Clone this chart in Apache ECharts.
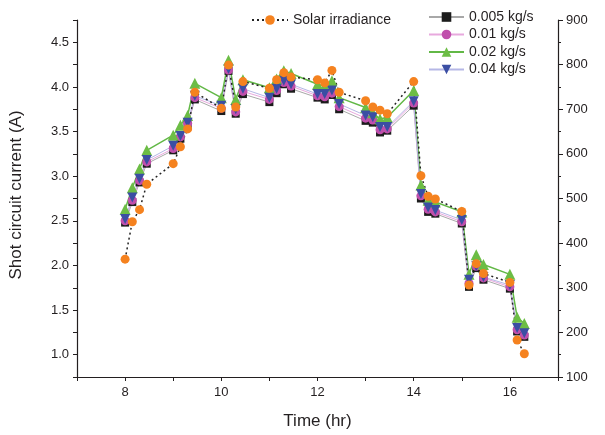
<!DOCTYPE html>
<html>
<head>
<meta charset="utf-8">
<script src="https://cdn.jsdelivr.net/npm/echarts@6/dist/echarts.min.js"></script>
<style>
  html, body { margin: 0; padding: 0; background: #fff; }
  #chart { width: 605px; height: 435px; }
</style>
</head>
<body>
<div id="chart"></div>
<script>
// time of day (hr, minutes written as decimals like the source)
const times = [8, 8.15, 8.3, 8.45, 9, 9.15, 9.3, 9.45, 10, 10.15, 10.3, 10.45,
  11, 11.15, 11.3, 11.45, 12, 12.15, 12.3, 12.45, 13, 13.15, 13.3, 13.45,
  14, 14.15, 14.3, 14.45, 15, 15.15, 15.3, 15.45, 16, 16.15, 16.3]

// short circuit current (A) per mass flow rate
const flow005 = [2.48, 2.71, 2.93, 3.14, 3.29, 3.42, 3.57, 3.86, 3.73, 4.18, 3.70, 3.92,
  3.83, 3.93, 4.03, 3.98, 3.88, 3.86, 3.91, 3.75, 3.62, 3.60, 3.49, 3.51,
  3.79, 2.75, 2.60, 2.58, 2.47, 1.76, 1.97, 1.84, 1.74, 1.26, 1.20]
const flow01 = [2.50, 2.73, 2.95, 3.16, 3.31, 3.44, 3.59, 3.88, 3.76, 4.19, 3.72, 3.95,
  3.86, 3.96, 4.05, 4.01, 3.90, 3.89, 3.93, 3.78, 3.65, 3.63, 3.52, 3.53,
  3.82, 2.78, 2.63, 2.60, 2.49, 1.80, 1.99, 1.86, 1.76, 1.28, 1.22]
const flow02 = [2.63, 2.87, 3.08, 3.29, 3.46, 3.57, 3.68, 4.04, 3.88, 4.30, 3.86, 4.08,
  3.99, 4.09, 4.18, 4.15, 4.03, 4.01, 4.07, 3.88, 3.77, 3.71, 3.64, 3.66,
  3.96, 2.90, 2.73, 2.71, 2.60, 1.90, 2.12, 2.01, 1.90, 1.42, 1.35]
const flow04 = [2.52, 2.76, 2.97, 3.18, 3.34, 3.45, 3.60, 3.90, 3.79, 4.20, 3.75, 3.98,
  3.88, 3.98, 4.07, 4.03, 3.92, 3.92, 3.96, 3.81, 3.68, 3.66, 3.55, 3.55,
  3.84, 2.80, 2.65, 2.62, 2.51, 1.84, 1.99, 1.87, 1.78, 1.30, 1.24]

// solar irradiance (W/m2), right axis
const solar = [364, 448, 475, 532, 578, 616, 656, 738, 702, 799, 705, 762,
  747, 766, 782, 772, 766, 759, 787, 738, 719, 705, 698, 690,
  762, 551, 505, 499, 471, 306, 354, 332, 312, 183, 152]

const flowNames = ['0.005 kg/s', '0.01 kg/s', '0.02 kg/s', '0.04 kg/s']

const FONT = '"Liberation Sans", Arial, sans-serif'
const INK = '#231f20'

const pairs = (ys) => times.map((t, i) => [t, ys[i]])

const el = document.getElementById('chart')
const chart = echarts.init(el)

chart.setOption({
  animation: false,
  backgroundColor: '#fff',
  textStyle: { fontFamily: FONT, color: INK },
  grid: { left: 77, right: 47, top: 20, bottom: 56 },
  legend: [
    {
      data: ['Solar irradiance'],
      left: 251, top: 13, padding: 0,
      itemWidth: 36, itemHeight: 12,
      textStyle: { fontSize: 14, color: INK, fontFamily: FONT }
    },
    {
      data: flowNames,
      orient: 'vertical',
      left: 428, top: 10, padding: 0,
      itemWidth: 35, itemHeight: 12, itemGap: 3.5,
      textStyle: { fontSize: 14, color: INK, fontFamily: FONT }
    }
  ],
  xAxis: {
    type: 'value',
    min: 7, max: 17, interval: 1,
    name: 'Time (hr)',
    nameLocation: 'middle',
    nameGap: 36,
    nameTextStyle: { fontSize: 17, color: INK },
    axisLine: { onZero: false, lineStyle: { color: INK, width: 1.2 } },
    axisTick: { length: 4, lineStyle: { color: INK } },
    axisLabel: {
      fontSize: 13, color: INK, margin: 9,
      formatter: (v) => (v % 2 === 0 ? String(v) : '')
    },
    splitLine: { show: false }
  },
  yAxis: [
    {
      type: 'value',
      min: 0.75, max: 4.75, interval: 0.25,
      axisLine: { show: true, lineStyle: { color: INK, width: 1.2 } },
      axisTick: { length: 4, lineStyle: { color: INK } },
      axisLabel: {
        fontSize: 13, color: INK, margin: 8,
        formatter: (v) => {
          const k = Math.round(v * 100)
          return k >= 100 && k % 50 === 0 ? (k / 100).toFixed(1) : ''
        }
      },
      splitLine: { show: false }
    },
    {
      type: 'value',
      position: 'right',
      min: 100, max: 900, interval: 100,
      axisLine: { show: true, lineStyle: { color: INK, width: 1.2 } },
      axisTick: { length: 5, lineStyle: { color: INK } },
      minorTick: { show: true, splitNumber: 2, length: 3, lineStyle: { color: INK } },
      axisLabel: { fontSize: 13, color: INK, margin: 8 },
      splitLine: { show: false }
    }
  ],
  graphic: [
    {
      type: 'text',
      x: 16, y: 195,
      rotation: Math.PI / 2,
      style: {
        text: 'Shot circuit current (A)',
        x: 0, y: 0,
        align: 'center', verticalAlign: 'middle',
        font: '17px ' + FONT,
        fill: INK
      }
    }
  ],
  series: [
    {
      name: flowNames[0], type: 'line', data: pairs(flow005),
      symbol: 'rect', symbolSize: 8,
      itemStyle: { color: '#1c1c1c' },
      lineStyle: { color: '#a8a8a8', width: 1 }
    },
    {
      name: flowNames[1], type: 'line', data: pairs(flow01),
      symbol: 'circle', symbolSize: 9,
      itemStyle: { color: '#c04fac' },
      lineStyle: { color: '#e8a9de', width: 1 }
    },
    {
      name: flowNames[2], type: 'line', data: pairs(flow02),
      symbol: 'triangle', symbolSize: 11,
      itemStyle: { color: '#6cbd45' },
      lineStyle: { color: '#62b846', width: 1.5 }
    },
    {
      name: flowNames[3], type: 'line', data: pairs(flow04),
      symbol: 'triangle', symbolRotate: 180, symbolSize: 10,
      itemStyle: { color: '#3b4ea3' },
      lineStyle: { color: '#b5b7e6', width: 1 }
    },
    {
      name: 'Solar irradiance', type: 'line', yAxisIndex: 1, data: pairs(solar),
      symbol: 'circle', symbolSize: 9,
      itemStyle: { color: '#f5821f' },
      lineStyle: { color: '#222', width: 1.5, type: [2, 3] }
    }
  ]
})

window.addEventListener('resize', () => chart.resize())
</script>
</body>
</html>
